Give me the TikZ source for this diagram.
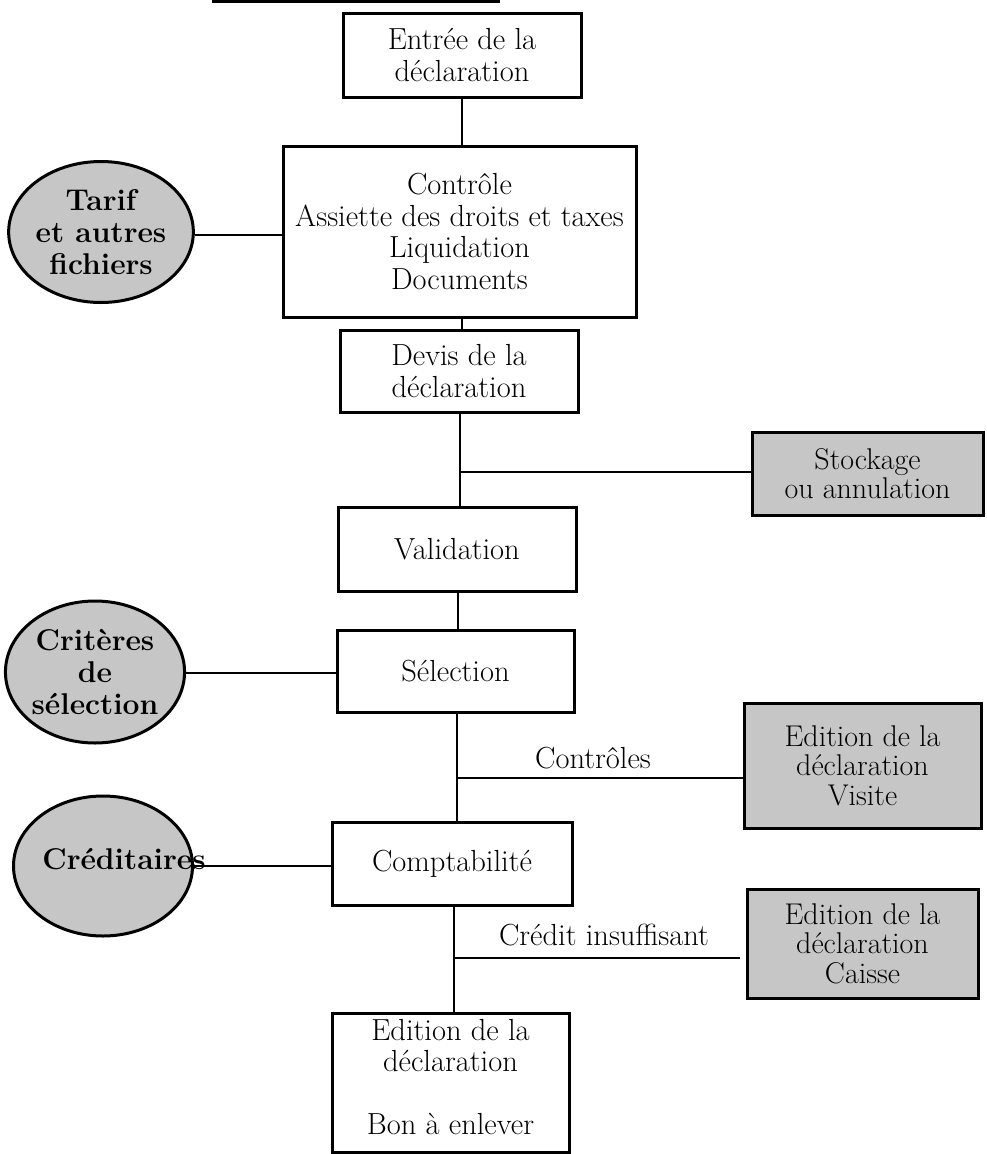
\documentclass[tikz,border=0pt]{standalone}
\usepackage{fontspec}
\usetikzlibrary{shapes.geometric}
\newcommand{\boxfont}{\fontsize{30.5}{31.5}\selectfont}
\newcommand{\shadefont}{\fontsize{30}{29.5}\selectfont}
\newcommand{\ellfont}{\fontsize{30}{32}\selectfont\bfseries}
\tikzset{
  procbox/.style={draw, rectangle, line width=3pt, inner sep=0pt, align=center, font=\boxfont},
  shadebox/.style={procbox, fill=gray!45, font=\shadefont},
  dataell/.style={draw, ellipse, line width=3pt, fill=gray!45, inner sep=0pt, align=center, font=\ellfont},
  link/.style={line width=2.8pt},
  lbl/.style={font=\boxfont, inner sep=0pt}
}
\begin{document}
\begin{tikzpicture}[x=1pt, y=-1pt]
\useasboundingbox[fill=white] (0,0) rectangle (986,1154);

% edge of the preceding frame
\coordinate (topl) at (212,1.5);
\coordinate (topr) at (500,1.5);
\draw[link, line width=3pt] (topl) -- (topr);

% main chain of processing steps
\node[procbox, minimum width=238pt, minimum height=84pt] (entree) at (462,55) {Entrée de la\\déclaration};
\node[procbox, minimum width=353pt, minimum height=171pt] (controle) at (459.5,231.5)
  {Contrôle\\Assiette des droits et taxes\\Liquidation\\Documents};
\node[procbox, minimum width=238pt, minimum height=82pt] (devis) at (459,371) {Devis de la\\déclaration};
\node[procbox, minimum width=238pt, minimum height=84pt] (valid) at (457,549) {Validation};
\node[procbox, minimum width=237pt, minimum height=82pt] (select) at (455.5,671) {Sélection};
\node[procbox, minimum width=240pt, minimum height=83pt] (compta) at (452,863.5) {Comptabilité};
\node[procbox, minimum width=237pt, minimum height=139pt] (bon) at (450.5,1082.5) {};
\node[lbl, align=center] (bontxt) at (450.5,1077) {Edition de la\\déclaration\\[31pt]Bon à enlever};

% side outputs
\node[shadebox, minimum width=231pt, minimum height=83pt] (stock) at (867.5,473.5) {Stockage\\ou annulation};
\node[shadebox, minimum width=237pt, minimum height=125pt] (visite) at (862.5,765.5) {Edition de la\\déclaration\\Visite};
\node[shadebox, minimum width=231pt, minimum height=109pt] (caisse) at (862.5,943.5) {Edition de la\\déclaration\\Caisse};

% data files
\node[dataell, minimum width=177pt, minimum height=141pt] (tarif) at (101,232) {Tarif\\et autres\\fichiers};
\node[dataell, minimum width=177pt, minimum height=142pt] (criteres) at (95,672) {Critères\\de\\sélection};
\node[dataell, minimum width=179pt, minimum height=140pt] (credit) at (103,866) {};
\node[font=\ellfont, inner sep=0pt] (credtxt) at (124,859) {Créditaires};

% vertical flow
\draw[link] (462,0 |- entree.south) -- (462,0 |- controle.north);
\draw[link] (462,0 |- controle.south) -- (462,0 |- devis.north);
\draw[link] (460,0 |- devis.south) -- (460,0 |- valid.north);
\draw[link] (458,0 |- valid.south) -- (458,0 |- select.north);
\draw[link] (457,0 |- select.south) -- (457,0 |- compta.north);
\draw[link] (454,0 |- compta.south) -- (454,0 |- bon.north);

% branches
\coordinate (j1) at (460,472);
\coordinate (j2) at (457,778);
\coordinate (j3) at (454,958);
\coordinate (j3end) at (740,958);
\draw[link] (j1) -- (j1 -| stock.west);
\draw[link] (j2) -- (j2 -| visite.west);
\draw[link] (j3) -- (j3end);
\node[lbl] (lctrl) at (593,758) {Contrôles};
\node[lbl] (lcredit) at (604,935) {Crédit insuffisant};

% file links
\draw[link] (tarif.east |- 0,235) -- (controle.west |- 0,235);
\draw[link] (criteres.east |- 0,673) -- (select.west |- 0,673);
\draw[link] (credit.east |- 0,866) -- (compta.west |- 0,866);
\end{tikzpicture}
\end{document}
